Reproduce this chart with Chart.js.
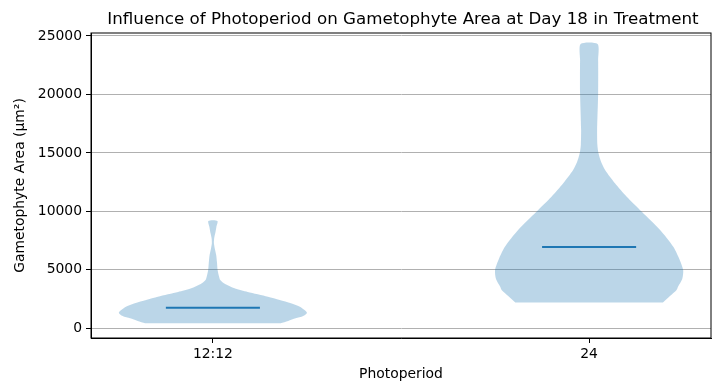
<!DOCTYPE html>
<html>
<head>
<meta charset="utf-8">
<script src="https://cdn.jsdelivr.net/npm/chart.js@4.4.1/dist/chart.umd.min.js"></script>
<style>
  html, body { margin: 0; padding: 0; background: #fff; }
  #wrap { width: 721px; height: 391px; }
</style>
</head>
<body>
<div id="wrap"><canvas id="violinChart" width="721" height="391"></canvas></div>
<script>
const chartTitle = 'Influence of Photoperiod on Gametophyte Area at Day 18 in Treatment';
const categories = ['12:12', '24'];
const positions = [1, 2];
const medians = [1760, 6950];
const yTicks = [0, 5000, 10000, 15000, 20000, 25000];

// density profiles (1 = widest point of the violin)
const levels1212 = [428, 624, 855, 1052, 1334, 1822, 2138, 2420, 2703, 3105, 3421, 3789,
  4131, 4473, 4986, 5671, 6269, 6782, 7270, 7723, 8125, 8664, 9177];
const density1212 = [0.72, 0.80, 0.88, 0.96, 1.00, 0.93, 0.83, 0.71, 0.585, 0.37, 0.23, 0.13,
  0.078, 0.064, 0.05, 0.043, 0.035, 0.021, 0.011, 0.014, 0.025, 0.037, 0.048];

const levels24 = [2198, 2763, 3276, 3558, 4217, 4986, 6013, 6980, 8408, 9973, 11256, 12400,
  13540, 14223, 14967, 15680, 16960, 20100, 22950, 24316];
const density24 = [0.785, 0.86, 0.93, 0.945, 0.99, 1.00, 0.955, 0.895, 0.755, 0.56, 0.40, 0.275,
  0.17, 0.128, 0.10, 0.088, 0.085, 0.096, 0.096, 0.09];

const halfWidth = 0.25;   // widths=0.5
const medianHalf = 0.125;
const blue = '#1f77b4';

function violinOutline(pos, levels, density) {
  const right = levels.map((y, i) => ({ x: pos + halfWidth * density[i], y: y }));
  const left = levels.map((y, i) => ({ x: pos - halfWidth * density[i], y: y })).reverse();
  return right.concat(left);
}

const bodies = [
  violinOutline(positions[0], levels1212, density1212),
  violinOutline(positions[1], levels24, density24)
];

const datasets = [];
bodies.forEach(pts => {
  datasets.push({
    data: pts,
    showLine: true,
    fill: 'shape',
    backgroundColor: 'rgba(31,119,180,0.3)',
    borderWidth: 0,
    pointRadius: 0,
    tension: 0.25
  });
});
positions.forEach((p, i) => {
  datasets.push({
    data: [{ x: p - medianHalf, y: medians[i] }, { x: p + medianHalf, y: medians[i] }],
    showLine: true,
    borderColor: blue,
    borderWidth: 2,
    pointRadius: 0
  });
});

// frame on all four sides + title centred over the axes
const framePlugin = {
  id: 'frame',
  afterDraw(chart) {
    const { ctx, chartArea: a } = chart;
    ctx.save();
    ctx.strokeStyle = '#000';
    ctx.lineWidth = 1;
    ctx.strokeRect(a.left, a.top, a.right - a.left, a.bottom - a.top);
    ctx.fillStyle = '#000';
    ctx.font = '16.7px "DejaVu Sans"';
    ctx.textAlign = 'center';
    ctx.textBaseline = 'alphabetic';
    ctx.fillText(chartTitle, (a.left + a.right) / 2 + 2, 24);
    ctx.restore();
  }
};

const font = { family: '"DejaVu Sans"', size: 13.9 };

new Chart(document.getElementById('violinChart'), {
  type: 'scatter',
  data: { datasets: datasets },
  options: {
    responsive: false,
    animation: false,
    layout: { padding: { top: 33, right: 10, left: 0, bottom: 0 } },
    plugins: {
      legend: { display: false },
      tooltip: { enabled: false }
    },
    scales: {
      x: {
        type: 'linear',
        min: 0.676,
        max: 2.324,
        afterFit: s => { s.height = 53; },
        afterBuildTicks: s => { s.ticks = positions.map(v => ({ value: v })); },
        grid: { drawOnChartArea: false, tickColor: '#000', tickLength: 5 },
        border: { color: '#000', width: 1 },
        ticks: {
          color: '#000',
          font: font,
          padding: 3,
          maxRotation: 0,
          callback: v => categories[positions.indexOf(v)]
        },
        title: {
          display: true,
          text: 'Photoperiod',
          color: '#000',
          font: font,
          padding: { top: 0, bottom: 8 }
        }
      },
      y: {
        min: -830,
        max: 25256,
        afterFit: s => { s.width = 91; },
        afterBuildTicks: s => { s.ticks = yTicks.map(v => ({ value: v })); },
        grid: { color: '#b0b0b0', lineWidth: 1, tickColor: '#000', tickLength: 5 },
        border: { color: '#000', width: 1 },
        ticks: {
          color: '#000',
          font: font,
          padding: 4,
          callback: v => String(v)
        },
        title: {
          display: true,
          text: 'Gametophyte Area (μm²)',
          color: '#000',
          font: font,
          padding: { top: 12, bottom: 0 }
        }
      }
    }
  },
  plugins: [framePlugin]
});
</script>
</body>
</html>
